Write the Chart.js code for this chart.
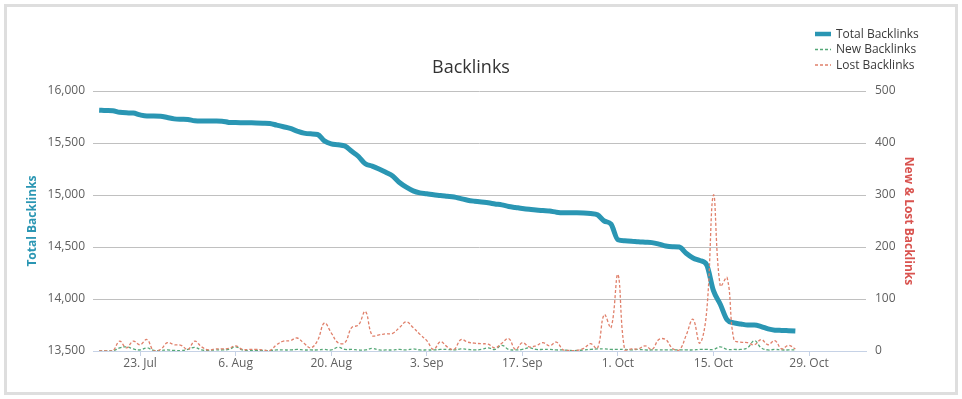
<!DOCTYPE html>
<html>
<head>
<meta charset="utf-8">
<script src="https://cdn.jsdelivr.net/npm/chart.js@4.4.0/dist/chart.umd.min.js"></script>
<style>
  html, body { margin: 0; padding: 0; background: #fff; }
  #wrap { position: relative; width: 962px; height: 399px; }
  #c { position: absolute; left: 0; top: 0; }
  #frame { position: absolute; left: 4px; top: 4px; width: 954px; height: 391px; box-sizing: border-box; border: 3px solid #dedede; pointer-events: none; }
</style>
</head>
<body>
<div id="wrap">
  <canvas id="c" width="962" height="399"></canvas>
  <div id="frame"></div>
</div>
<script>
// Day index 0 = 17 Jul
const startDate = [2018, 6, 17];
const xTickDays = [6, 20, 34, 48, 62, 76, 90, 104];
const xTickLabels = ['23. Jul', '6. Aug', '20. Aug', '3. Sep', '17. Sep', '1. Oct', '15. Oct', '29. Oct'];
const leftTicks = [13500, 14000, 14500, 15000, 15500, 16000];
const rightTicks = [0, 100, 200, 300, 400, 500];

const totalBacklinks = [
  15815, 15812, 15810, 15795, 15790, 15788, 15770, 15760, 15760, 15758,
  15745, 15732, 15728, 15726, 15714, 15712, 15712, 15711, 15710, 15698,
  15696, 15695, 15694, 15693, 15691, 15688, 15672, 15656, 15640, 15615,
  15595, 15588, 15582, 15520, 15492, 15484, 15470, 15420, 15370, 15300,
  15278, 15250, 15218, 15183, 15120, 15075, 15040, 15020, 15012, 15002,
  14996, 14988, 14980, 14965, 14950, 14940, 14932, 14925, 14914, 14905,
  14890, 14880, 14870, 14862, 14856, 14850, 14846, 14835, 14830, 14830,
  14830, 14828, 14822, 14810, 14750, 14720, 14570, 14560, 14556, 14550,
  14546, 14542, 14528, 14510, 14503, 14500, 14440, 14395, 14370, 14330,
  14080, 13950, 13800, 13770, 13760, 13750, 13750, 13735, 13712, 13700,
  13698, 13695, 13692
];
const newBacklinks = [
  0, 0, 0, 6, 8, 4, 2, 6, 1, 1,
  2, 1, 1, 3, 7, 2, 1, 2, 2, 3,
  8, 2, 1, 1, 1, 1, 2, 2, 2, 3,
  2, 2, 2, 3, 2, 7, 3, 3, 2, 2,
  5, 2, 2, 2, 3, 2, 4, 2, 2, 2,
  3, 3, 2, 4, 3, 2, 3, 6, 3, 11,
  3, 2, 3, 6, 3, 3, 3, 2, 2, 1,
  1, 2, 3, 4, 4, 3, 3, 3, 2, 3,
  2, 2, 2, 2, 2, 2, 2, 2, 3, 3,
  3, 8, 3, 3, 3, 6, 20, 6, 2, 3,
  2, 2, 2
];
const lostBacklinks = [
  0, 0, 0, 19, 6, 19, 12, 22, 0, 3,
  16, 12, 11, 3, 19, 8, 2, 4, 4, 5,
  10, 3, 3, 3, 2, 1, 12, 19, 20, 25,
  15, 6, 20, 54, 35, 16, 16, 45, 50, 76,
  30, 31, 33, 34, 45, 56, 45, 32, 20, 3,
  18, 8, 3, 22, 17, 15, 14, 13, 6, 15,
  24, 3, 16, 8, 10, 16, 10, 17, 2, 1,
  1, 5, 14, 5, 70, 45, 147, 2, 4, 4,
  10, 3, 22, 22, 5, 2, 30, 61, 15, 75,
  300, 125, 141, 22, 17, 16, 12, 22, 12, 20,
  4, 11, 4
];

const seriesNames = ['Total Backlinks', 'New Backlinks', 'Lost Backlinks'];
const colTotal = '#2a96b3';
const colNew = '#55a877';
const colLost = '#e0806b';

const toXY = arr => arr.map((v, i) => ({ x: i, y: v }));
const FONT = "'Open Sans', 'DejaVu Sans', sans-serif";

const decorPlugin = {
  id: 'decor',
  afterDraw(chart) {
    const ctx = chart.ctx;
    const area = chart.chartArea;
    ctx.save();
    ctx.fillStyle = '#333';
    ctx.font = '18px ' + FONT;
    ctx.textAlign = 'center';
    ctx.textBaseline = 'middle';
    ctx.fillText('Backlinks', 471, 68);
    const items = [
      { t: seriesNames[0], c: colTotal, w: 4.5, d: [] },
      { t: seriesNames[1], c: colNew, w: 1.5, d: [3, 2] },
      { t: seriesNames[2], c: colLost, w: 1.5, d: [3, 2] }
    ];
    ctx.textAlign = 'left';
    ctx.font = '12px ' + FONT;
    items.forEach((it, k) => {
      const y = 34 + k * 15.5;
      ctx.beginPath();
      ctx.strokeStyle = it.c;
      ctx.lineWidth = it.w;
      ctx.setLineDash(it.d);
      ctx.moveTo(815, y);
      ctx.lineTo(831, y);
      ctx.stroke();
      ctx.setLineDash([]);
      ctx.fillStyle = '#3a3a3a';
      ctx.fillText(it.t, 836, y + 0.5);
    });
    const cy = (area.top + area.bottom) / 2;
    ctx.font = 'bold 12px ' + FONT;
    ctx.textAlign = 'center';
    ctx.fillStyle = '#2a96b3';
    ctx.translate(33, cy);
    ctx.rotate(-Math.PI / 2);
    ctx.fillText('Total Backlinks', 0, 0);
    ctx.restore();
    ctx.save();
    ctx.font = 'bold 12px ' + FONT;
    ctx.textAlign = 'center';
    ctx.textBaseline = 'middle';
    ctx.fillStyle = '#d9534f';
    ctx.translate(908, cy);
    ctx.rotate(Math.PI / 2);
    ctx.fillText('New & Lost Backlinks', 0, 0);
    ctx.restore();
  }
};

new Chart(document.getElementById('c'), {
  type: 'line',
  data: {
    datasets: [
      {
        label: seriesNames[0], data: toXY(totalBacklinks), yAxisID: 'y',
        borderColor: colTotal, borderWidth: 5, pointRadius: 0,
        cubicInterpolationMode: 'monotone', order: 2
      },
      {
        label: seriesNames[1], data: toXY(newBacklinks), yAxisID: 'y1',
        borderColor: colNew, borderWidth: 1.3, borderDash: [3, 2], pointRadius: 0,
        tension: 0.4, order: 1
      },
      {
        label: seriesNames[2], data: toXY(lostBacklinks), yAxisID: 'y1',
        borderColor: colLost, borderWidth: 1.3, borderDash: [3, 2], pointRadius: 0,
        tension: 0.4, order: 0
      }
    ]
  },
  options: {
    responsive: false,
    animation: false,
    layout: { padding: { top: 91, left: 0, right: 0, bottom: 0 } },
    plugins: { legend: { display: false }, title: { display: false }, tooltip: { enabled: false } },
    scales: {
      x: {
        type: 'linear', min: -0.9, max: 112.35,
        afterFit: s => { s.height = 48; },
        afterBuildTicks: s => { s.ticks = xTickDays.map(v => ({ value: v })); },
        grid: { display: true, drawOnChartArea: false, drawTicks: true, tickLength: 5, color: '#c6d2e6' },
        border: { display: true, color: '#c6d2e6', width: 1 },
        ticks: {
          padding: 0, color: '#606060', font: { family: FONT, size: 12 },
          maxRotation: 0, autoSkip: false,
          callback: v => { const i = xTickDays.indexOf(v); return i >= 0 ? xTickLabels[i] : ''; }
        }
      },
      y: {
        position: 'left', min: leftTicks[0], max: leftTicks[leftTicks.length - 1],
        afterFit: s => { s.width = 93; },
        afterBuildTicks: s => { s.ticks = leftTicks.map(v => ({ value: v })); },
        grid: { drawTicks: false, color: c => (c.tick && c.tick.value === leftTicks[0]) ? 'rgba(0,0,0,0)' : '#c0c0c0', lineWidth: 1 },
        border: { display: false },
        ticks: { padding: 8, color: '#606060', font: { family: FONT, size: 12 }, callback: v => v.toLocaleString('en-US') }
      },
      y1: {
        position: 'right', min: rightTicks[0], max: rightTicks[rightTicks.length - 1],
        afterFit: s => { s.width = 96; },
        afterBuildTicks: s => { s.ticks = rightTicks.map(v => ({ value: v })); },
        grid: { display: false, drawTicks: false },
        border: { display: false },
        ticks: { padding: 9, color: '#606060', font: { family: FONT, size: 12 } }
      }
    }
  },
  plugins: [decorPlugin]
});
</script>
</body>
</html>
